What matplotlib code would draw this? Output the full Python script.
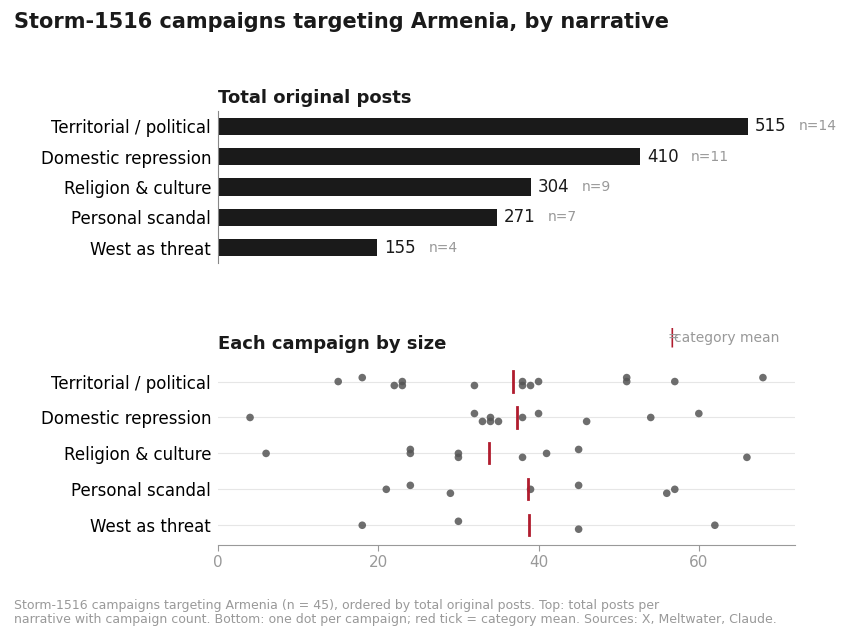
import matplotlib.pyplot as plt

CATEGORIES = ["Territorial / political", "Domestic repression", "Religion & culture",
              "Personal scandal", "West as threat"]
CAMPAIGNS = [
    [15, 18, 22, 23, 23, 32, 38, 38, 39, 40, 51, 51, 57, 68],
    [4, 32, 33, 34, 34, 35, 38, 40, 46, 54, 60],
    [6, 24, 24, 30, 30, 38, 41, 45, 66],
    [21, 24, 29, 39, 45, 56, 57],
    [18, 30, 45, 62],
]
JITTER = [0.0, -0.11, 0.11]

totals = [sum(c) for c in CAMPAIGNS]
counts = [len(c) for c in CAMPAIGNS]
means = [t / n for t, n in zip(totals, counts)]

fig = plt.figure(figsize=(8.53, 6.41), dpi=100)
W, H = 853, 641


def box(l, t, r, b):
    return [l / W, 1 - b / H, (r - l) / W, (b - t) / H]


fig.text(14 / W, 1 - 22 / H, "Storm-1516 campaigns targeting Armenia, by narrative",
         fontsize=15, fontweight="bold", color="#1a1a1a", va="center")

# top: totals
ax1 = fig.add_axes(box(218, 111, 795, 263))
ypos = list(range(len(CATEGORIES)))
ax1.barh(ypos, totals, height=0.56, color="#1a1a1a")
ax1.set_ylim(len(CATEGORIES) - 0.5, -0.5)
ax1.set_xlim(0, 561)
ax1.set_yticks(ypos)
ax1.set_yticklabels(CATEGORIES, fontsize=12)
ax1.tick_params(axis="y", length=0, pad=5)
ax1.set_xticks([])
for s in ["top", "right", "bottom"]:
    ax1.spines[s].set_visible(False)
ax1.spines["left"].set_color("#888888")
for y, t, n in zip(ypos, totals, counts):
    ax1.text(t + 7, y, str(t), va="center", fontsize=12, color="#1a1a1a")
    ax1.text(t + 50, y, f"n={n}", va="center", fontsize=10, color="#999999")
ax1.set_title("Total original posts", loc="left", fontsize=13, fontweight="bold",
              color="#1a1a1a", pad=6)

# bottom: strip plot
ax2 = fig.add_axes(box(218, 360, 795, 545))
for i, vals in enumerate(CAMPAIGNS):
    seen = {}
    ys = []
    for v in vals:
        k = seen.get(v, 0)
        seen[v] = k + 1
        ys.append(i + JITTER[(k + len(ys)) % 3])
    ax2.scatter(vals, ys, s=30, color="#555555", alpha=0.85, edgecolor="none", zorder=3)
    ax2.plot([means[i], means[i]], [i - 0.28, i + 0.28], color="#b01c2e", lw=2, zorder=4)
    ax2.axhline(i, color="#e6e6e6", lw=0.8, zorder=1)
ax2.set_ylim(len(CATEGORIES) - 0.45, -0.6)
ax2.set_xlim(0, 72)
ax2.set_yticks(ypos)
ax2.set_yticklabels(CATEGORIES, fontsize=12)
ax2.tick_params(axis="y", length=0, pad=5)
ax2.set_xticks([0, 20, 40, 60])
ax2.tick_params(axis="x", colors="#999999", labelsize=11, length=4)
for s in ["top", "right", "left"]:
    ax2.spines[s].set_visible(False)
ax2.spines["bottom"].set_color("#999999")
ax2.set_title("Each campaign by size", loc="left", fontsize=13, fontweight="bold",
              color="#1a1a1a", pad=8)
fig.text(672 / W, 1 - 337 / H, "|", color="#b01c2e", fontsize=14, ha="center", va="center")
fig.text(674 / W, 1 - 338 / H, "category mean", color="#999999", fontsize=10, va="center")
fig.text(668 / W, 1 - 338 / H, "=", color="#999999", fontsize=10, va="center")

fig.text(14 / W, 1 - 605 / H,
         "Storm-1516 campaigns targeting Armenia (n = 45), ordered by total original posts. Top: total posts per",
         fontsize=9, color="#999999", va="center")
fig.text(14 / W, 1 - 620 / H,
         "narrative with campaign count. Bottom: one dot per campaign; red tick = category mean. Sources: X, Meltwater, Claude.",
         fontsize=9, color="#999999", va="center")

fig.savefig("out.png", dpi=100, facecolor="white")
